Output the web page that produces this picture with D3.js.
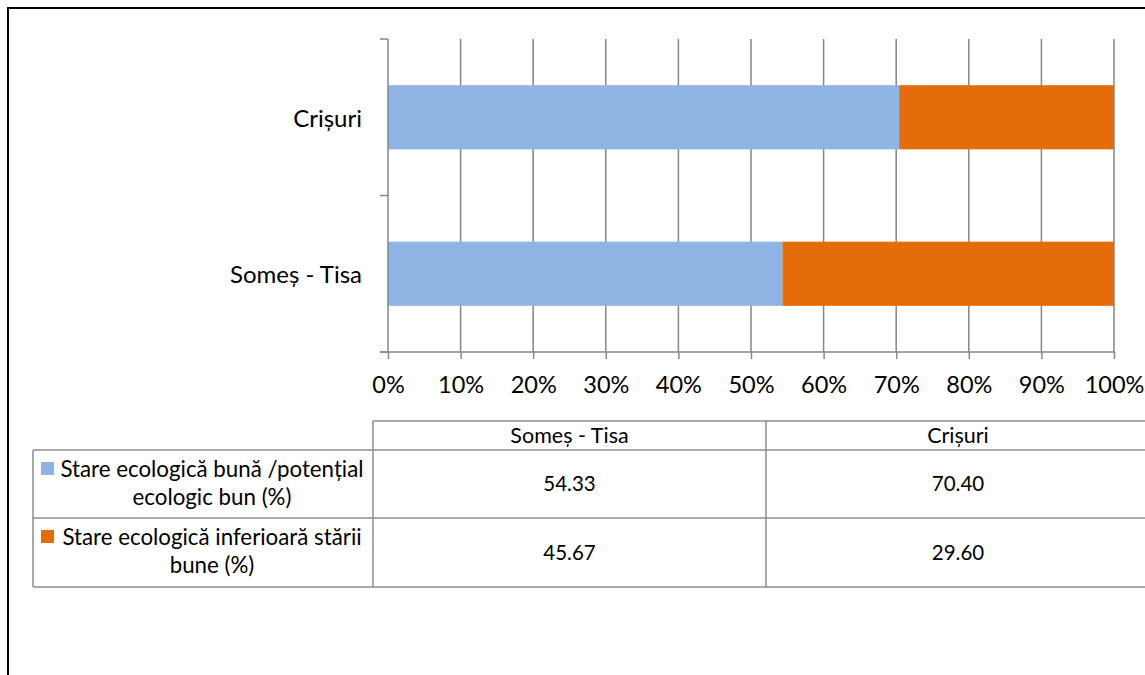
<!DOCTYPE html>
<html><head><meta charset="utf-8">
<script src="https://cdn.jsdelivr.net/npm/d3@7"></script>
<style>
html,body{margin:0;padding:0;background:#fff;overflow:hidden}
text{font-family:"Lato","Open Sans",sans-serif;fill:#000}
</style></head>
<body><svg id="c" width="1145" height="675"></svg>
<script>
const categories = ["Crișuri", "Someș - Tisa"];
const tableCategories = ["Someș - Tisa", "Crișuri"];
const seriesNames = [["Stare ecologică bună /potențial", "ecologic bun (%)"], ["Stare ecologică inferioară stării", "bune (%)"]];
const goodValues = {"Someș - Tisa": 54.33, "Crișuri": 70.40};
const badValues = {"Someș - Tisa": 45.67, "Crișuri": 29.60};
const tickValues = [0, 10, 20, 30, 40, 50, 60, 70, 80, 90, 100];
const colors = ["#8EB4E3", "#E46C0A"];

const svg = d3.select("#c");
// outer frame
svg.append("path").attr("d", "M8,676 L8,8 L1146,8").attr("fill", "none").attr("stroke", "#000").attr("stroke-width", 2);

const x = d3.scaleLinear().domain([0, 100]).range([388, 1114]);
const y = d3.scaleBand().domain(categories).range([39, 352]).paddingInner(0.59).paddingOuter(0.295);

// gridlines
svg.append("g").selectAll("line").data(tickValues.slice(1)).join("line")
  .attr("x1", d => x(d)).attr("x2", d => x(d)).attr("y1", 39).attr("y2", 352)
  .attr("stroke", "#868686").attr("stroke-width", 1.5);

// stacked bars
const stackData = categories.map(c => ({cat: c, good: goodValues[c], bad: badValues[c]}));
const stack = d3.stack().keys(["good", "bad"])(stackData);
svg.append("g").selectAll("g").data(stack).join("g").attr("fill", (d, i) => colors[i])
  .selectAll("rect").data(d => d).join("rect")
  .attr("x", d => x(d[0])).attr("width", d => x(d[1]) - x(d[0]))
  .attr("y", d => y(d.data.cat)).attr("height", y.bandwidth());

// x axis
const xAxis = svg.append("g").attr("transform", "translate(0,352)")
  .call(d3.axisBottom(x).tickValues(tickValues).tickFormat(d => d + "%").tickSize(7).tickPadding(16));
xAxis.select(".domain").attr("stroke", "#868686").attr("stroke-width", 1.5).attr("d", "M380,0H1114");
xAxis.selectAll(".tick line").attr("stroke", "#868686").attr("stroke-width", 1.5);
xAxis.selectAll(".tick text").attr("font-size", 23.5).attr("font-family", "Lato").attr("fill", "#000").attr("dy", "0.75em");

// y axis
const yAxisG = svg.append("g").attr("transform", "translate(388,0)");
yAxisG.append("line").attr("x1", 0).attr("x2", 0).attr("y1", 39).attr("y2", 352).attr("stroke", "#868686").attr("stroke-width", 1.5);
const yEdges = [39, (y("Crișuri") + y.bandwidth() + y("Someș - Tisa")) / 2, 352];
yAxisG.selectAll("line.t").data(yEdges).join("line").attr("class", "t")
  .attr("x1", -8).attr("x2", 0).attr("y1", d => d).attr("y2", d => d).attr("stroke", "#868686").attr("stroke-width", 1.5);
yAxisG.selectAll("text").data(categories).join("text")
  .attr("x", -26).attr("y", d => y(d) + y.bandwidth() / 2 + 1).attr("dy", "0.35em")
  .attr("text-anchor", "end").attr("font-size", 24).text(d => d);

// data table
const tg = svg.append("g");
const colX = [33, 373, 766, 1150];
const rowY = [421, 450, 518, 587];
const tc = "#8c8c8c";
tg.append("line").attr("x1", colX[1]).attr("x2", 1146).attr("y1", rowY[0]).attr("y2", rowY[0]).attr("stroke", tc).attr("stroke-width", 1.5);
[1, 2, 3].forEach(i => tg.append("line").attr("x1", colX[0]).attr("x2", 1146).attr("y1", rowY[i]).attr("y2", rowY[i]).attr("stroke", tc).attr("stroke-width", 1.5));
tg.append("line").attr("x1", colX[0]).attr("x2", colX[0]).attr("y1", rowY[1]).attr("y2", rowY[3]).attr("stroke", tc).attr("stroke-width", 1.5);
[1, 2].forEach(i => tg.append("line").attr("x1", colX[i]).attr("x2", colX[i]).attr("y1", rowY[0]).attr("y2", rowY[3]).attr("stroke", tc).attr("stroke-width", 1.5));

tableCategories.forEach((c, i) => {
  const cx = (colX[i + 1] + colX[i + 2]) / 2;
  tg.append("text").attr("x", cx).attr("y", (rowY[0] + rowY[1]) / 2).attr("dy", "0.35em").attr("text-anchor", "middle").attr("font-size", 21.5).text(c);
  tg.append("text").attr("x", cx).attr("y", (rowY[1] + rowY[2]) / 2).attr("dy", "0.35em").attr("text-anchor", "middle").attr("font-size", 20.5).text(goodValues[c].toFixed(2));
  tg.append("text").attr("x", cx).attr("y", (rowY[2] + rowY[3]) / 2).attr("dy", "0.35em").attr("text-anchor", "middle").attr("font-size", 20.5).text(badValues[c].toFixed(2));
});
seriesNames.forEach((lines, i) => {
  const top = rowY[i + 1];
  tg.append("rect").attr("x", 41).attr("y", top + 12).attr("width", 13).attr("height", 13).attr("fill", colors[i]);
  tg.append("text").attr("x", 212).attr("y", top + 19).attr("dy", "0.35em").attr("text-anchor", "middle").attr("font-size", 22.3).text(lines[0]);
  tg.append("text").attr("x", 212).attr("y", top + 47).attr("dy", "0.35em").attr("text-anchor", "middle").attr("font-size", 22.3).text(lines[1]);
});
</script></body></html>
